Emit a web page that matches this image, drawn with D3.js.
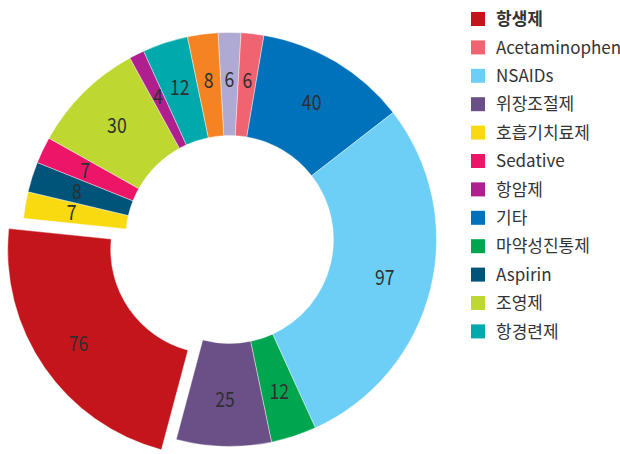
<!DOCTYPE html>
<html><head><meta charset="utf-8">
<script src="https://cdn.jsdelivr.net/npm/d3@7"></script>
<style>body{margin:0;background:#fff;}svg{display:block;}</style>
</head><body>
<svg id="c" width="620" height="454"></svg>
<script>
// slice order clockwise starting at the top slice
const sliceNames = ["미표기A","Acetaminophen","기타","NSAIDs","마약성진통제","위장조절제","항생제","호흡기치료제","Aspirin","Sedative","조영제","항암제","항경련제","미표기B"];
const sliceValues = [6,6,40,97,12,25,76,7,8,7,30,4,12,8];
const sliceColors = ["#aeaad3","#f06371","#0071bb","#6dcff6","#00a64f","#6a5087","#c4151c","#f9d90f","#005479","#ed1568","#bed731","#b01f8e","#00a9ab","#f58321"];
const explodedName = "항생제";
const legendNames = ["항생제","Acetaminophen","NSAIDs","위장조절제","호흡기치료제","Sedative","항암제","기타","마약성진통제","Aspirin","조영제","항경련제"];

const data = sliceNames.map((n,i)=>({name:n,value:sliceValues[i],color:sliceColors[i]}));
const total = d3.sum(sliceValues);
const cx = 229.5, cy = 239.5, rOut = 207, rIn = 104, explode = 18, labelR = 160;
const offset = (sliceValues[0]/2)/total*2*Math.PI;

const svg = d3.select("#c");
const g = svg.append("g").attr("transform",`translate(${cx},${cy})`);
const pie = d3.pie().value(d=>d.value).sort(null).startAngle(-offset).endAngle(2*Math.PI-offset);
const arc = d3.arc().innerRadius(rIn).outerRadius(rOut);
const lab = d3.arc().innerRadius(labelR).outerRadius(labelR);
const arcs = pie(data);

const shift = (d,k=1) => {
  if (d.data.name !== explodedName) return [0,0];
  const a = (d.startAngle + d.endAngle)/2;
  return [Math.sin(a)*explode*k, -Math.cos(a)*explode*k];
};

g.selectAll("path.s").data(arcs).join("path").attr("class","s")
  .attr("d",arc).attr("fill",d=>d.data.color)
  .attr("stroke","#ffffff").attr("stroke-width",0.4)
  .attr("transform",d=>`translate(${shift(d)})`);

g.selectAll("text.l").data(arcs).join("text").attr("class","l")
  .attr("transform",d=>{const c=lab.centroid(d);const s=shift(d,1.3);return `translate(${c[0]+s[0]},${c[1]+s[1]}) scale(0.84,1)`;})
  .attr("text-anchor","middle").attr("dy","0.36em")
  .attr("font-family","'Noto Sans CJK KR','Noto Sans',sans-serif").attr("font-size",21)
  .attr("fill","#2f2f2f").text(d=>d.data.value);

const colorOf = n => sliceColors[sliceNames.indexOf(n)];
const lg = svg.append("g").attr("transform","translate(471,12)");
const rows = lg.selectAll("g").data(legendNames).join("g").attr("transform",(d,i)=>`translate(0,${i*28.4})`);
rows.append("rect").attr("width",14).attr("height",14).attr("fill",d=>colorOf(d));
rows.append("text").attr("x",25).attr("y",7).attr("dy","0.36em")
  .attr("font-family","'Noto Sans CJK KR','Noto Sans',sans-serif").attr("font-size",17)
  .attr("font-weight",(d,i)=>i===0?"bold":"normal")
  .attr("fill","#333").text(d=>d);
</script>
</body></html>
